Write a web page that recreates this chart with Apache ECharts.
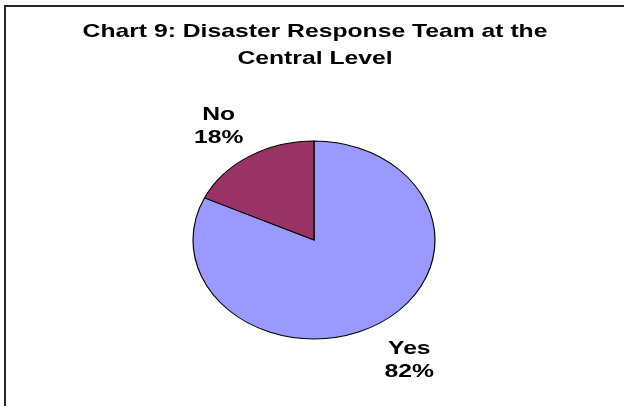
<!DOCTYPE html>
<html>
<head>
<meta charset="utf-8">
<script src="https://cdn.jsdelivr.net/npm/echarts@6/dist/echarts.min.js"></script>
<style>
  html, body { margin: 0; padding: 0; background: #fff; }
  #chart { width: 624px; height: 406px; }
</style>
</head>
<body>
<div id="chart"></div>
<script>
// Survey answers and their shares
const categories = ['Yes', 'No'];
const shares = [82, 18];
const sliceColors = ['#9999FF', '#993366'];
const titleText = 'Chart 9: Disaster Response Team at the\nCentral Level';

// Layout: the whole chart is drawn horizontally widened, text included
const STRETCH = 1.3;
const FONT = 'bold 19px "Liberation Sans", Arial, sans-serif';
const CX = 314, CY = 240, RX = 121, RY = 99;
const LABEL_DX = 1.47, LABEL_DY = 1.40, LABEL_SHIFT = 3;

const total = shares.reduce((a, b) => a + b, 0);
const starts = [];
let acc = 0;
shares.forEach(v => { starts.push(acc); acc += v; });

const chart = echarts.init(document.getElementById('chart'), null, { renderer: 'canvas' });

chart.setOption({
  backgroundColor: '#ffffff',
  animation: false,
  graphic: [{
    type: 'rect',
    silent: true,
    shape: { x: 5, y: 6, width: 800, height: 600 },
    style: { fill: 'none', stroke: '#262626', lineWidth: 2 }
  }, {
    type: 'text',
    silent: true,
    x: 315,
    y: 45,
    scaleX: STRETCH,
    style: {
      text: titleText,
      x: 0,
      y: 0,
      align: 'center',
      verticalAlign: 'middle',
      font: FONT,
      lineHeight: 27,
      fill: '#000'
    }
  }],
  series: [{
    type: 'custom',
    coordinateSystem: 'none',
    data: categories.map((c, i) => [i, shares[i]]),
    renderItem: function (params, api) {
      const i = params.dataIndex;
      const v = api.value(1);
      const a0 = -Math.PI / 2 + starts[i] / total * Math.PI * 2;
      const a1 = -Math.PI / 2 + (starts[i] + v) / total * Math.PI * 2;
      const mid = (a0 + a1) / 2;
      return {
        type: 'group',
        children: [{
          type: 'group',
          originX: CX,
          originY: CY,
          scaleY: RY / RX,
          children: [{
            type: 'sector',
            shape: { cx: CX, cy: CY, r0: 0, r: RX, startAngle: a0, endAngle: a1, clockwise: true },
            style: { fill: sliceColors[i], stroke: '#000', lineWidth: 1.2, strokeNoScale: true }
          }]
        }, {
          type: 'text',
          x: CX + Math.cos(mid) * RX * LABEL_DX,
          y: CY + LABEL_SHIFT + Math.sin(mid) * RY * LABEL_DY,
          scaleX: STRETCH,
          style: {
            text: categories[i] + '\n' + Math.round(v / total * 100) + '%',
            x: 0,
            y: 0,
            align: 'center',
            verticalAlign: 'middle',
            fill: '#000',
            font: FONT,
            lineHeight: 23
          }
        }]
      };
    }
  }]
});
</script>
</body>
</html>
